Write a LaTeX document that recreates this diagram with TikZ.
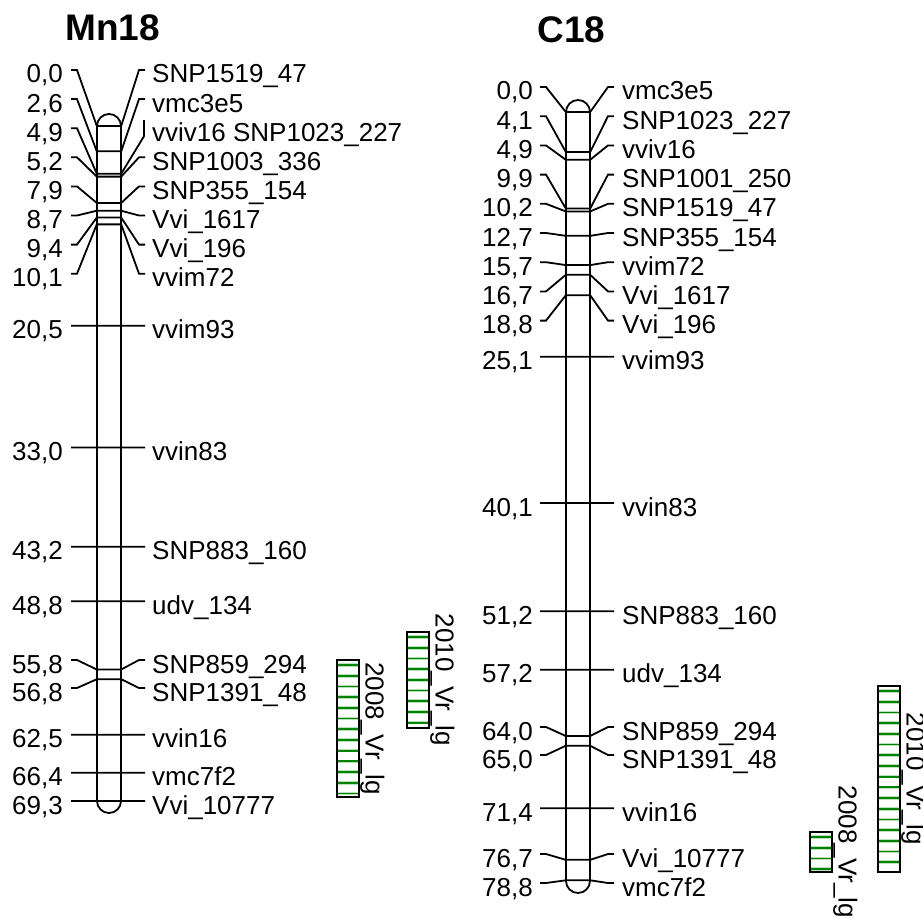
\documentclass[tikz,border=0pt]{standalone}
\usepackage{fontspec}
\setmainfont{Liberation Sans}
\usepackage{xcolor}
\usepackage{tikz}

\definecolor{qtlgreen}{RGB}{0,130,0}
\definecolor{qtllight}{RGB}{185,225,185}

\tikzset{
  chrom/.style={draw=black, line width=1.8pt, rounded corners=12pt},
  conn/.style={draw=black, line width=1.8pt},
  mline/.style={inner sep=0pt, minimum width=24pt, minimum height=0pt},
  posl/.style={anchor=east, inner sep=0pt, text height=26pt, text depth=0pt},
  namel/.style={anchor=west, inner sep=0pt, text height=26pt, text depth=0pt},
  title/.style={anchor=base, font=\fontsize{37}{44}\selectfont\bfseries},
  stripelight/.style={draw=qtllight, line width=3.6pt},
  stripe/.style={draw=qtlgreen, line width=1.8pt},
  qtl/.style={draw=black, line width=1.8pt},
  qtllabel/.style={rotate=-90, anchor=south, inner sep=0pt},
}

\begin{document}
\begin{tikzpicture}[x=1pt, y=-1pt, font=\fontsize{26}{30}\selectfont]
  % scale: 9.74 px per cM, 0 cM at y=126 (Mn18) and y=112 (C18)
  \useasboundingbox (0,0) rectangle (922,923);
  \node[title] (tmn) at (112.5,41) {Mn18};
  \node[title] (tc)  at (571.5,43) {C18};
  \draw[chrom] (97,114) rectangle (121,813);
  \draw[chrom] (566,100) rectangle (590,893);
  % Mn18
  \foreach \cm/\ly/\ps/\nm [count=\i] in {
      0.0/70/{0,0}/{SNP1519\_47},
      2.6/99.1/{2,6}/vmc3e5,
      5.2/157.3/{5,2}/{SNP1003\_336},
      7.9/186.4/{7,9}/{SNP355\_154},
      8.7/215.5/{8,7}/{Vvi\_1617},
      9.4/244.6/{9,4}/{Vvi\_196},
      10.1/273.7/{10,1}/vvim72,
      20.5/325.7/{20,5}/vvim93,
      33.0/447.4/{33,0}/vvin83,
      43.2/546.8/{43,2}/{SNP883\_160},
      48.8/601.3/{48,8}/{udv\_134},
      55.8/660/{55,8}/{SNP859\_294},
      56.8/688/{56,8}/{SNP1391\_48},
      62.5/734.8/{62,5}/vvin16,
      66.4/772.7/{66,4}/vmc7f2,
      69.3/801.0/{69,3}/{Vvi\_10777}}{
    \node[mline] (mk\i) at (109,{126+9.74*\cm}) {};
    \node[posl]  (mp\i) at (63,\ly) {\ps};
    \node[namel] (mn\i) at (152,\ly) {\nm};
    \draw[conn] ([xshift=8pt]mp\i.east) -- ([xshift=14pt]mp\i.east) -- (mk\i.west) -- (mk\i.east)
      -- ([xshift=-13pt]mn\i.west) -- ([xshift=-7pt]mn\i.west);
  }
  \node[mline] (mkvv) at (109,{126+9.74*4.9}) {};
  \node[posl]  (mpvv) at (63,128.2) {4,9};
  \node[namel] (mnvv) at (152,128.2) {vviv16 SNP1023\_227};
  \draw[conn] ([xshift=8pt]mpvv.east) -- ([xshift=14pt]mpvv.east) -- (mkvv.west) -- (mkvv.east)
    -- ([xshift=-8pt,yshift=-8pt]mnvv.west) -- ([xshift=-8pt,yshift=8pt]mnvv.west);
  % C18
  \foreach \cm/\ly/\ps/\nm [count=\i] in {
      0.0/87/{0,0}/vmc3e5,
      4.1/116.2/{4,1}/{SNP1023\_227},
      4.9/145.4/{4,9}/vviv16,
      9.9/174.6/{9,9}/{SNP1001\_250},
      10.2/203.8/{10,2}/{SNP1519\_47},
      12.7/233/{12,7}/{SNP355\_154},
      15.7/262.2/{15,7}/vvim72,
      16.7/291.4/{16,7}/{Vvi\_1617},
      18.8/320.6/{18,8}/{Vvi\_196},
      25.1/356.7/{25,1}/vvim93,
      40.1/503/{40,1}/vvin83,
      51.2/611.2/{51,2}/{SNP883\_160},
      57.2/669.7/{57,2}/{udv\_134},
      64.0/727/{64,0}/{SNP859\_294},
      65.0/755/{65,0}/{SNP1391\_48},
      71.4/808.2/{71,4}/vvin16,
      76.7/854/{76,7}/{Vvi\_10777},
      78.8/883/{78,8}/vmc7f2}{
    \node[mline] (ck\i) at (578,{112+9.75*\cm}) {};
    \node[posl]  (cp\i) at (533,\ly) {\ps};
    \node[namel] (cn\i) at (622,\ly) {\nm};
    \draw[conn] ([xshift=7pt]cp\i.east) -- ([xshift=13pt]cp\i.east) -- (ck\i.west) -- (ck\i.east)
      -- ([xshift=-14pt]cn\i.west) -- ([xshift=-8pt]cn\i.west);
  }
  % QTL bars, stripes every 10.7 px
  \foreach \x/\ya/\yb/\ns in {337/660/797/12, 407/632/728/8, 810/832/872/3, 878/686/872/16}{
    \foreach \s in {0,...,\ns}
      \draw[stripelight] (\x,{\ya+5+10.7*\s}) -- ++(22,0);
    \foreach \s in {0,...,\ns}
      \draw[stripe] (\x,{\ya+5+10.7*\s}) -- ++(22,0);
    \draw[qtl] (\x,\ya) rectangle ({\x+22},\yb);
  }
  \node[qtllabel] (qm08) at (360,728.5) {2008\_Vr\_lg};
  \node[qtllabel] (qm10) at (430,680) {2010\_Vr\_lg};
  \node[qtllabel] (qc08) at (833,852) {2008\_Vr\_lg};
  \node[qtllabel] (qc10) at (901,779) {2010\_Vr\_lg};
\end{tikzpicture}
\end{document}
